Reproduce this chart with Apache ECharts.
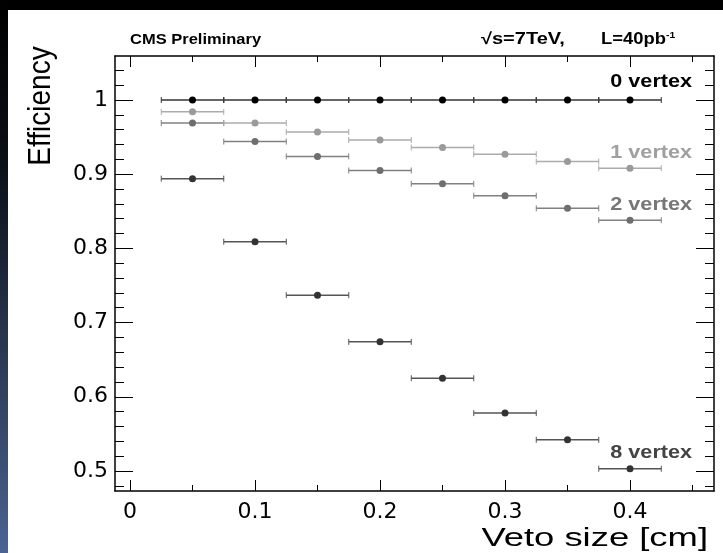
<!DOCTYPE html>
<html>
<head>
<meta charset="utf-8">
<title>Veto efficiency</title>
<script src="https://cdn.jsdelivr.net/npm/echarts@6/dist/echarts.min.js"></script>
<style>
  html, body { margin: 0; padding: 0; background: #fff; }
  #chart { width: 723px; height: 553px; }
</style>
</head>
<body>
<div id="chart"></div>
<script>
// veto size bin centres [cm], each bin is +-0.025 wide
const vetoSize = [0.05, 0.1, 0.15, 0.2, 0.25, 0.3, 0.35, 0.4]
const binHalfWidth = 0.025

// efficiency for each number of reconstructed vertices
const eff0vtx = [1, 1, 1, 1, 1, 1, 1, 1]
const eff1vtx = [0.984, 0.969, 0.957, 0.946, 0.936, 0.927, 0.917, 0.908]
const eff2vtx = [0.969, 0.944, 0.924, 0.905, 0.887, 0.871, 0.854, 0.838]
const eff8vtx = [0.894, 0.809, 0.737, 0.674, 0.625, 0.578, 0.542, 0.503]

// tick positions
const xMajorTicks = [0, 0.1, 0.2, 0.3, 0.4]
const xMinorTicks = [0.05, 0.15, 0.25, 0.35, 0.45]
const yMajorTicks = [0.5, 0.6, 0.7, 0.8, 0.9, 1]
const yMinorTicks = [0.48, 0.52, 0.54, 0.56, 0.58, 0.62, 0.64, 0.66, 0.68, 0.72, 0.74, 0.76,
  0.78, 0.82, 0.84, 0.86, 0.88, 0.92, 0.94, 0.96, 0.98, 1.02, 1.04]

const xRange = [-0.012, 0.4672]
const yRange = [0.473, 1.0593]

const chart = echarts.init(document.getElementById('chart'))

const tickFmt = (v) => (v === 0 || v === 1 ? String(v) : v.toFixed(1))
const labelFont = { fontFamily: 'DejaVu Sans', fontSize: 22, color: '#000' }

// one axis = frame side + one set of inward ticks
function makeAxis(position, range, ticks, len, opts) {
  opts = opts || {}
  return {
    type: 'value',
    position,
    min: range[0],
    max: range[1],
    axisLine: { show: !!opts.line, onZero: false, lineStyle: { color: '#000', width: 1.5 } },
    axisTick: {
      show: true,
      inside: true,
      length: len,
      customValues: ticks,
      lineStyle: { color: '#000', width: 1 }
    },
    axisLabel: opts.labels
      ? Object.assign({ show: true, customValues: ticks, formatter: tickFmt, margin: opts.margin }, labelFont)
      : { show: false },
    splitLine: { show: false }
  }
}

function errorSeries(name, values, lineColor, markerColor) {
  return {
    name,
    type: 'custom',
    data: vetoSize.map((x, i) => [x, values[i]]),
    encode: { x: 0, y: 1 },
    renderItem(params, api) {
      const x = api.value(0)
      const y = api.value(1)
      const l = api.coord([x - binHalfWidth, y])
      const r = api.coord([x + binHalfWidth, y])
      const c = api.coord([x, y])
      return {
        type: 'group',
        children: [
          { type: 'line', shape: { x1: l[0], y1: l[1], x2: r[0], y2: r[1] }, style: { stroke: lineColor, lineWidth: 1.5 } },
          { type: 'line', shape: { x1: l[0], y1: l[1] - 3, x2: l[0], y2: l[1] + 3 }, style: { stroke: lineColor, lineWidth: 1 } },
          { type: 'line', shape: { x1: r[0], y1: r[1] - 3, x2: r[0], y2: r[1] + 3 }, style: { stroke: lineColor, lineWidth: 1 } },
          { type: 'circle', shape: { cx: c[0], cy: c[1], r: 3.5 }, style: { fill: markerColor } }
        ]
      }
    }
  }
}

function text(str, x, y, color, font, align, scaleX) {
  return {
    type: 'text',
    x,
    y,
    scaleX: scaleX || 1,
    style: { text: str, fill: color, font, align, verticalAlign: 'middle' }
  }
}

const boldHeader = 'bold 15px "Liberation Sans"'
const boldTag = 'bold 18px "Liberation Sans"'

const option = {
  backgroundColor: '#fff',
  animation: false,
  grid: { left: 115, right: 9, top: 56, bottom: 62, containLabel: false },
  xAxis: [
    makeAxis('bottom', xRange, xMajorTicks, 11, { line: true, labels: true, margin: 10 }),
    makeAxis('bottom', xRange, xMinorTicks, 6),
    makeAxis('top', xRange, xMajorTicks, 11, { line: true }),
    makeAxis('top', xRange, xMinorTicks, 6)
  ],
  yAxis: [
    makeAxis('left', yRange, yMajorTicks, 18, { line: true, labels: true, margin: 7 }),
    makeAxis('left', yRange, yMinorTicks, 9),
    makeAxis('right', yRange, yMajorTicks, 18, { line: true }),
    makeAxis('right', yRange, yMinorTicks, 9)
  ],
  series: [
    errorSeries('8 vertex', eff8vtx, '#555', '#333'),
    errorSeries('2 vertex', eff2vtx, '#808080', '#6e6e6e'),
    errorSeries('1 vertex', eff1vtx, '#ababab', '#9a9a9a'),
    errorSeries('0 vertex', eff0vtx, '#333', '#000')
  ],
  graphic: [
    // dark slide border
    { type: 'rect', shape: { x: 0, y: 0, width: 723, height: 10 }, style: { fill: '#000' } },
    {
      type: 'rect',
      shape: { x: 0, y: 0, width: 8, height: 553 },
      style: {
        fill: {
          type: 'linear', x: 0, y: 0, x2: 0, y2: 1,
          colorStops: [
            { offset: 0, color: '#000' },
            { offset: 0.3, color: '#0c1018' },
            { offset: 1, color: '#4a6392' }
          ]
        }
      }
    },
    // header
    text('CMS Preliminary', 130, 40, '#000', boldHeader, 'left', 1.1),
    text('√s=7TeV,', 481, 40, '#000', 'bold 16px "Liberation Sans"', 'left', 1.25),
    {
      type: 'text',
      x: 601,
      y: 40,
      scaleX: 1.15,
      style: {
        text: 'L=40pb{sup|-1}',
        fill: '#000',
        font: 'bold 16px "Liberation Sans"',
        align: 'left',
        verticalAlign: 'middle',
        rich: { sup: { font: 'bold 9px "Liberation Sans"', verticalAlign: 'top', padding: [0, 0, 8, 0] } }
      }
    },
    // series tags
    text('0 vertex', 692, 82, '#000', boldTag, 'right', 1.2),
    text('1 vertex', 692, 153, '#a0a0a0', boldTag, 'right', 1.2),
    text('2 vertex', 692, 205, '#777', boldTag, 'right', 1.2),
    text('8 vertex', 692, 453, '#444', boldTag, 'right', 1.2),
    // axis titles
    text('Veto size [cm]', 708, 539, '#000', '26px "Liberation Sans"', 'right', 1.4),
    {
      type: 'text',
      x: 41,
      y: 106,
      rotation: Math.PI / 2,
      scaleY: 1.15,
      style: { text: 'Efficiency', fill: '#000', font: '28px "Liberation Sans"', align: 'center', verticalAlign: 'middle' }
    }
  ]
}

chart.setOption(option)
</script>
</body>
</html>
